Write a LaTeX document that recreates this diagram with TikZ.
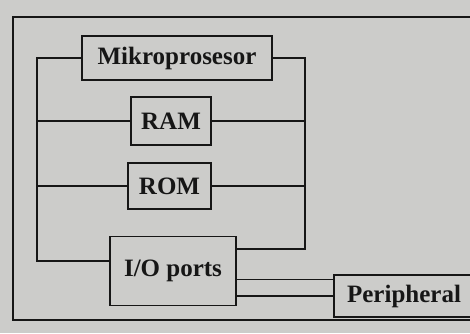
\documentclass[tikz,border=0pt]{standalone}
\usepackage{fontspec}
\setmainfont{Liberation Serif}
\usetikzlibrary{positioning}

\definecolor{paper}{RGB}{204,204,202}
\definecolor{ink}{RGB}{22,22,22}

\begin{document}
\begin{tikzpicture}[
    x=1pt, y=-1pt,
    box/.style={draw=ink, line width=1.4pt, align=center, inner sep=0pt, text=ink,
        font=\fontsize{25}{29}\selectfont\bfseries},
    link/.style={draw=ink, line width=1.4pt}
]
\clip (0,0) rectangle (470,333);
\fill[paper] (0,0) rectangle (470,333);
% outer frame, open to the right
\draw[link] (480,17) -- (13,17) -- (13,320) -- (480,320);
% units
\node[box, minimum width=190pt, minimum height=44pt] (mikro) at (177,58) {Mikroprosesor};
\node[box, minimum width=80pt, minimum height=48pt] (ram) at (171,121) {RAM};
\node[box, minimum width=83pt, minimum height=46pt] (rom) at (169.5,186) {ROM};
\node[box, minimum width=126pt, minimum height=69pt] (io) at (173,271) {I/O ports};
\node[box, minimum width=140pt, minimum height=42pt] (peri) at (404,296) {Peripheral};
% bus
\coordinate (lbot) at (37,261);
\coordinate (rbot) at (305,249);
\draw[link] (mikro.west) -| (lbot) -- (io.west |- lbot);
\draw[link] (mikro.east) -| (rbot) -- (io.east |- rbot);
\draw[link] (ram.west) -- (ram.west -| lbot);
\draw[link] (ram.east) -- (ram.east -| rbot);
\draw[link] (rom.west) -- (rom.west -| lbot);
\draw[link] (rom.east) -- (rom.east -| rbot);
% to peripheral
\coordinate (ptop) at ([yshift=-5pt]peri.north west);
\draw[link] (ptop) -- (ptop -| io.east);
\draw[link] (peri.west) -- (peri.west -| io.east);
\end{tikzpicture}
\end{document}
